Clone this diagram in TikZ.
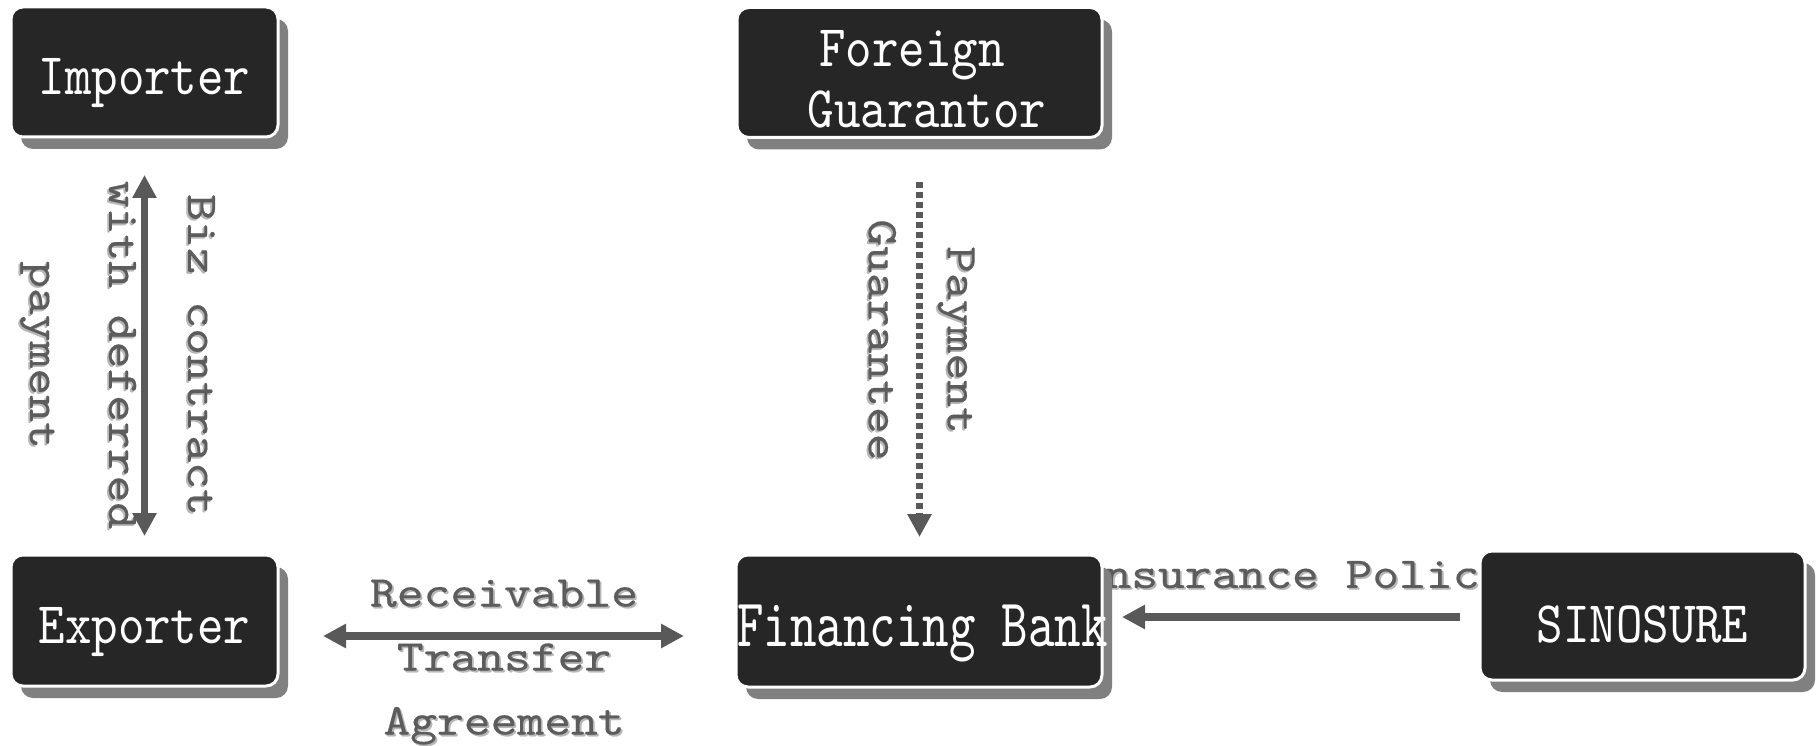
\documentclass[tikz,border=0pt]{standalone}
\usepackage{fontspec}
\newfontfamily\boxfont[FakeStretch=0.855]{lmmono10-regular.otf}
\newfontfamily\bankfont[FakeStretch=0.742]{lmmono10-regular.otf}
\newfontfamily\labfont[FakeStretch=1.16,FakeBold=0.3]{lmmono10-regular.otf}
\usetikzlibrary{arrows.meta,shadows}
\definecolor{boxfill}{HTML}{262626}
\definecolor{shadowgray}{HTML}{808080}
\definecolor{arrowgray}{HTML}{595959}
\definecolor{labgray}{HTML}{5C5C5C}
\newcommand\tshd[1]{\leavevmode\rlap{\kern1.8pt\raisebox{-1.8pt}{\textcolor{black!28}{#1}}}#1}
\begin{document}
\begin{tikzpicture}[x=1pt,y=-1pt,
  entity/.style={draw=white, line width=3pt, fill=boxfill, rounded corners=12pt,
    text=white, font=\boxfont\fontsize{59}{61}\selectfont, inner sep=0pt, outer sep=0pt,
    drop shadow={shadow xshift=10pt, shadow yshift=-12pt, fill=shadowgray, opacity=1}},
  lowtext/.style={text height=52pt, text depth=6pt},
  lab/.style={text=labgray, font=\labfont\fontsize{44}{79}\selectfont, align=center, inner sep=0pt},
  tip/.tip={Triangle[length=23pt,width=23pt]},
  link/.style={draw=arrowgray, line width=7.5pt, -tip},
  dlink/.style={draw=arrowgray, line width=7.5pt, tip-tip},
]
\useasboundingbox (0,0) rectangle (1818,746);

% labels (drawn first, boxes and arrows lie over them)
\node[lab] (insl) at (1292,580.4) {\tshd{Insurance Policy}};
\node[lab, rotate=-90] (bizl) at (116.6,355) {\tshd{Biz contract}\\\tshd{with deferred}\\\tshd{payment}};
\node[lab, rotate=-90] (payl) at (920.5,340) {\tshd{Payment}\\\tshd{Guarantee}};
\node[lab, font=\labfont\fontsize{44}{64}\selectfont] (recl) at (504,663) {\tshd{Receivable}\\\tshd{Transfer}\\\tshd{Agreement}};

% boxes
\node[entity, lowtext, minimum width=267pt, minimum height=130pt] (imp) at (144.5,72) {Importer};
\node[entity, minimum width=365pt, minimum height=130pt] (fg) at (919.5,72.5)
  {\raisebox{0pt}[111pt][0pt]{\vbox{\baselineskip=61pt\halign{\hfil#\hfil\cr\hbox{Foreign\kern15pt}\cr\hbox{\kern15pt Guarantor}\cr}}}};
\node[entity, lowtext, minimum width=267pt, minimum height=131pt] (exp) at (144.5,620.5) {Exporter};
\node[entity, text height=56pt, text depth=6pt, minimum width=366pt, minimum height=132pt] (fin) at (919,621)
  {\makebox[0pt]{\bankfont\fontsize{68}{70}\selectfont\hspace{7pt}Financing Bank}};
\node[entity, text height=59pt, text depth=6pt, minimum width=325pt, minimum height=129pt] (sin) at (1642.5,615.5) {SINOSURE};

% connectors
\draw[dlink, shorten <=38pt, shorten >=19pt] (imp) -- (exp);
\draw[link, line width=7pt, dash pattern=on 6pt off 4pt, shorten <=45pt, shorten >=18pt] (fg.south) -- (fg.south |- fin.north);
\draw[dlink, shorten <=45pt, shorten >=52pt] ([yshift=-15.5pt]exp.east) -- ([yshift=-15.5pt]exp.east -| fin.west);
\draw[link, shorten <=20pt, shorten >=20pt] ([yshift=-1.5pt]sin.west) -- ([yshift=-1.5pt]sin.west -| fin.east);
\end{tikzpicture}
\end{document}
